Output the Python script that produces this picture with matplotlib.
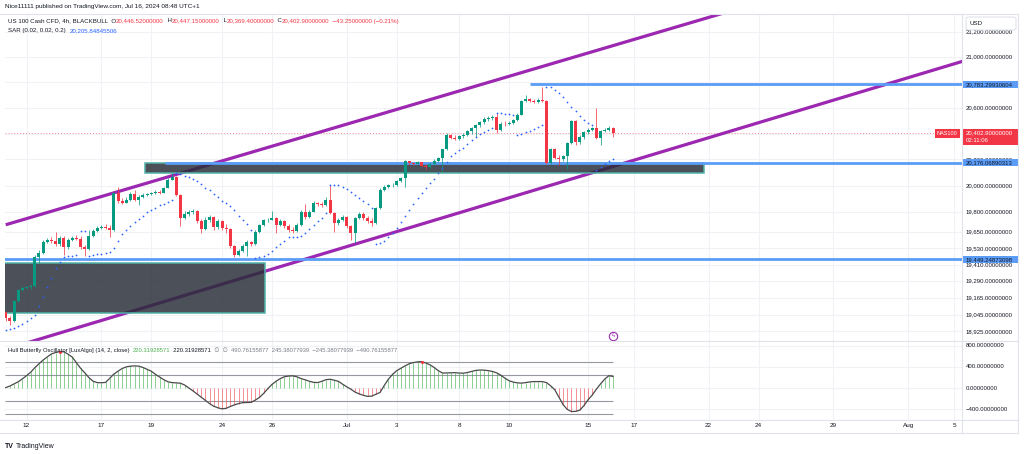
import numpy as np
import matplotlib.pyplot as plt
import matplotlib.transforms as mtransforms
from matplotlib.patches import Rectangle, FancyBboxPatch
from matplotlib.lines import Line2D
from matplotlib.ticker import NullLocator

plt.rcParams['font.family'] = ['Liberation Sans', 'DejaVu Sans']

# ---------------- data (US100 4h) ----------------
first_open = 19061
closes = [19024, 19002, 19141, 19221, 19239, 19246, 19250, 19469, 19498, 19579,
          19594, 19586, 19564, 19608, 19542, 19594, 19608, 19601, 19542, 19527,
          19623, 19660, 19683, 19690, 19683, 19668, 19945, 19884, 19873, 19892,
          19937, 19892, 19914, 19930, 19937, 19945, 19956, 19948, 19983, 20047,
          20066, 19930, 19757, 19787, 19802, 19809, 19734, 19675, 19742, 19764,
          19690, 19734, 19683, 19675, 19546, 19483, 19513, 19550, 19579, 19564,
          19653, 19701, 19738, 19745, 19757, 19705, 19734, 19694, 19668, 19660,
          19705, 19805, 19764, 19805, 19869, 19858, 19851, 19895, 19794, 19719,
          19742, 19764, 19694, 19645, 19753, 19790, 19757, 19731, 19719, 19828,
          19967, 19994, 20002, 20009, 20039, 20058, 20188, 20173, 20169, 20177,
          20150, 20139, 20165, 20192, 20208, 20277, 20392, 20365, 20357, 20377,
          20392, 20419, 20439, 20466, 20489, 20516, 20524, 20530, 20427, 20473,
          20470, 20481, 20504, 20547, 20653, 20672, 20653, 20649, 20664, 20653,
          20173, 20277, 20215, 20200, 20223, 20326, 20497, 20331, 20373, 20411,
          20431, 20439, 20365, 20419, 20431, 20446.52, 20402.90]
highs = [19075, 19039, 19155, 19235, 19250, 19257, 19265, 19483, 19520, 19594,
         19608, 19616, 19653, 19623, 19623, 19608, 19623, 19630, 19623, 19557,
         19668, 19675, 19697, 19705, 19708, 19705, 19952, 19990, 19907, 19914,
         19952, 19967, 19930, 19945, 19948, 19956, 19967, 19971, 19994, 20058,
         20093, 20074, 19937, 19809, 19817, 19824, 19817, 19749, 19764, 19779,
         19772, 19749, 19742, 19712, 19683, 19557, 19527, 19564, 19594, 19586,
         19668, 19712, 19749, 19757, 19809, 19764, 19749, 19742, 19712, 19690,
         19719, 19817, 19862, 19817, 19881, 19877, 19877, 19917, 20009, 19802,
         19757, 19779, 19772, 19705, 19764, 19802, 19802, 19772, 19757, 19839,
         19979, 20005, 20013, 20021, 20047, 20066, 20196, 20188, 20181, 20188,
         20181, 20165, 20181, 20204, 20219, 20284, 20404, 20400, 20388, 20392,
         20404, 20431, 20450, 20477, 20500, 20528, 20536, 20543, 20557, 20489,
         20497, 20497, 20516, 20559, 20664, 20700, 20680, 20668, 20676, 20765,
         20661, 20288, 20288, 20234, 20234, 20338, 20508, 20504, 20388, 20423,
         20442, 20450, 20596, 20427, 20442, 20458, 20447.15]
lows = [19002, 18973, 18995, 19134, 19214, 19228, 19235, 19243, 19425, 19491,
        19571, 19571, 19550, 19550, 19483, 19527, 19586, 19594, 19527, 19476,
        19520, 19616, 19653, 19675, 19675, 19616, 19660, 19869, 19862, 19869,
        19884, 19884, 19854, 19907, 19922, 19930, 19937, 19937, 19948, 19979,
        20043, 19922, 19697, 19749, 19772, 19787, 19719, 19645, 19668, 19727,
        19668, 19675, 19668, 19645, 19531, 19465, 19476, 19505, 19471, 19550,
        19557, 19645, 19697, 19727, 19742, 19645, 19697, 19683, 19653, 19645,
        19653, 19697, 19749, 19757, 19802, 19847, 19839, 19847, 19787, 19655,
        19701, 19734, 19683, 19594, 19569, 19749, 19742, 19719, 19694, 19712,
        19824, 19960, 19983, 19990, 19998, 20028, 19992, 20158, 20158, 20162,
        20143, 20131, 20135, 20158, 20181, 20107, 20273, 20354, 20350, 20350,
        20365, 20384, 20396, 20375, 20450, 20473, 20497, 20504, 20401, 20420,
        20458, 20466, 20473, 20497, 20543, 20645, 20645, 20637, 20641, 20645,
        20165, 20162, 20204, 20158, 20188, 20127, 20319, 20311, 20319, 20357,
        20396, 20419, 20354, 20311, 20411, 20423, 20369.4]
sar = [18932, 18939, 18950, 18964, 18979, 18997, 19018, 19044, 19108, 19174,
       19243, 19312, 19386, 19432, 19469, 19473, 19476, 19480, 19660, 19660,
       19476, 19483, 19487, 19491, 19498, 19505, 19535, 19586, 19634, 19668,
       19697, 19723, 19749, 19775, 19798, 19817, 19835, 19851, 19862, 19877,
       19895, 20094, 20089, 20077, 20066, 20051, 20032, 20013, 19986, 19964,
       19937, 19918, 19888, 19866, 19847, 19813, 19772, 19738, 19708, 19668,
       19461, 19465, 19476, 19491, 19513, 19539, 19564, 19586, 19612, 19618,
       19618, 19620, 19645, 19675, 19705, 19734, 19760, 19794, 20009, 20009,
       20009, 19994, 19975, 19956, 19933, 19907, 19881, 19858, 19832, 19564,
       19571, 19586, 19612, 19645, 19683, 19723, 19768, 19817, 19862, 19907,
       19948, 19983, 20021, 20054, 20093, 20135, 20181, 20223, 20246, 20269,
       20292, 20319, 20346, 20373, 20396, 20415, 20431, 20446, 20559, 20559,
       20555, 20551, 20547, 20392, 20400, 20408, 20419, 20435, 20450, 20466,
       20765, 20765, 20743, 20715, 20684, 20649, 20610, 20571, 20536, 20508,
       20485, 20466, 20123, 20146, 20165, 20188, 20205.85]
hull_osc = [10, 40, 80, 120, 175, 235, 300, 385, 460, 530,
            590, 645, 672, 688, 685, 640, 585, 480, 375, 290,
            200, 130, 105, 102, 108, 185, 265, 320, 370, 402,
            415, 420, 415, 390, 355, 320, 260, 210, 160, 120,
            105, 100, 94, 60, 5, -50, -110, -170, -230, -290,
            -340, -370, -389, -380, -345, -314, -290, -272, -270, -268,
            -225, -175, -100, -10, 70, 130, 180, 215, 228, 232,
            215, 180, 158, 130, 110, 105, 130, 160, 168, 150,
            128, 75, 25, -20, -75, -108, -135, -155, -150, -115,
            -80, 50, 170, 260, 330, 376, 420, 460, 482, 495,
            500, 475, 440, 390, 330, 285, 288, 293, 292, 285,
            282, 295, 315, 335, 342, 340, 330, 315, 290, 245,
            190, 140, 115, 100, 95, 105, 118, 124, 124, 124,
            105, 45, -30, -170, -310, -400, -440, -438, -415, -330,
            -220, -130, -20, 80, 170, 235, 220.32]
osc_peaks = [13, 100]

tick_bars = [5, 23, 35, 52, 64, 82, 94, 109, 121, 140, 151, 169, 181, 199, 217, 228]
tick_labels = ['12', '17', '19', '24', '26', 'Jul', '3', '8', '10', '15',
               '17', '22', '24', '29', 'Aug', '5']
price_ticks = [21200, 21000, 20800, 20600, 20400, 20200, 20000, 19800,
               19650, 19530, 19410, 19290, 19165, 19045, 18925]
hidden_ticks = [20800, 20400]          # covered by the level tags
osc_ticks = [800, 400, 0, -400]
osc_levels = [490.76155877, 245.38077939, -245.38077939, -490.76155877]

upper_channel = ([0, 175], [19706, 21378])
lower_channel = ([0, 230], [18797, 20966])
blue_levels = [(20783.29930604, 126), (20176.06890313, 38.3), (19449.24873098, -1)]
zones = [(33.5, 167.9, 20096, 20176.07), (-1, 62.3, 19057, 19422)]
last_price = 20402.90
sar_last = 20205.84845506

# ---------------- figure / panes ----------------
W, H = 1024, 454
fig = plt.figure(figsize=(W / 100, H / 100), dpi=100)
fig.patch.set_facecolor('white')


def rect(x0, y0, x1, y1):
    return [x0 / W, 1 - y1 / H, (x1 - x0) / W, (y1 - y0) / H]


ax = fig.add_axes(rect(5, 14, 962, 341))
ax.set_yscale('log')
axo = fig.add_axes(rect(5, 341, 962, 420), sharex=ax)
axp = fig.add_axes(rect(962, 14, 1018, 341), sharey=ax)
axpo = fig.add_axes(rect(962, 341, 1018, 420), sharey=axo)

ymin, ymax = 18856, 21346
ax.set_ylim(ymin, ymax)
ax.set_xlim(-0.17, 229.9)
axo.set_ylim(-600, 889)
axp.set_xlim(0, 1)
axpo.set_xlim(0, 1)

for a in (ax, axo, axp, axpo):
    for s in a.spines.values():
        s.set_visible(False)
    a.yaxis.set_major_locator(NullLocator())
    a.yaxis.set_minor_locator(NullLocator())
    a.set_facecolor('none')
axp.set_xticks([])
axpo.set_xticks([])
ax.tick_params(axis='x', bottom=False, labelbottom=False)

TXT = '#131722'
GRID = '#f0f2f6'
UP, DN = '#089981', '#f23645'
BLUE = '#5b9cf6'
PURPLE = '#9c27b0'

n = len(closes)
x = np.arange(n)
opens = [first_open] + closes[:-1]

# grid
for p in price_ticks:
    ax.axhline(p, color=GRID, lw=0.8, zorder=0)
for b in tick_bars:
    ax.axvline(b, color=GRID, lw=0.8, zorder=0)
    axo.axvline(b, color=GRID, lw=0.8, zorder=0)
for v in osc_ticks:
    axo.axhline(v, color=GRID, lw=0.8, zorder=0)

# channel
ax.plot(*upper_channel, color=PURPLE, lw=2.3, zorder=1.5, solid_capstyle='butt')
ax.plot(*lower_channel, color=PURPLE, lw=2.3, zorder=1.5, solid_capstyle='butt')

# zones
for x0, x1, p0, p1 in zones:
    ax.add_patch(Rectangle((x0, p0), x1 - x0, p1 - p0, facecolor='#2a2e39',
                           alpha=0.84, edgecolor='none', zorder=2))
    ax.add_patch(Rectangle((x0, p0), x1 - x0, p1 - p0, facecolor='none',
                           edgecolor='#4fb3a9', lw=1.1, zorder=2.1))

# horizontal levels
for p, start in blue_levels:
    ax.hlines(p, start, 229.9, color=BLUE, lw=2.0, zorder=2.5)
ax.axhline(last_price, color=DN, lw=0.7, ls=(0, (1, 2)), alpha=0.6, zorder=1)

# candles
cols = [UP if c >= o else DN for o, c in zip(opens, closes)]
ax.vlines(x, lows, highs, colors=cols, lw=0.7, alpha=0.75, zorder=3)
bottoms = [min(o, c) for o, c in zip(opens, closes)]
heights = [max(abs(c - o), 5) for o, c in zip(opens, closes)]
ax.bar(x, heights, bottom=bottoms, width=0.72, color=cols, lw=0, zorder=3.2)

# parabolic SAR
ax.scatter(x, sar, s=1.6, color='#2962ff', lw=0, zorder=4)

# data flag icon
ax.plot([n - 1], [18892], 'o', ms=6, mfc='white', mec=PURPLE, mew=0.8, zorder=5,
        clip_on=False)
ax.text(n - 1, 18892, 'ϟ', color=PURPLE, fontsize=4.5, ha='center', va='center',
        zorder=6, clip_on=False)

# oscillator
hcols = ['#3fb049' if v >= 0 else '#f2444f' for v in hull_osc]
axo.vlines(x, 0, hull_osc, colors=hcols, lw=0.7, alpha=0.6, zorder=2)
axo.hlines(osc_levels, -0.17, n - 1, color='#9598a1', lw=0.8, zorder=1)
axo.plot(x, hull_osc, color='#4a4a4a', lw=0.9, zorder=3)
axo.scatter([x[i] for i in osc_peaks], [hull_osc[i] for i in osc_peaks],
            s=5, color=DN, lw=0, zorder=4)
axo.set_xticks(tick_bars)
axo.set_xticklabels(tick_labels)
axo.tick_params(axis='x', length=0, pad=2.2, labelsize=4.6, labelcolor=TXT)

# price scale
k = (341 - 14) / np.log(ymax / ymin)   # pixels per log unit
for p in price_ticks:
    if p in hidden_ticks:
        continue
    axp.text(0.07, p, f"{p:,.8f}", va='center', ha='left', fontsize=4.3, color=TXT)
for v in osc_ticks:
    axpo.text(0.07, v, f"{v:,.8f}".replace('-', '\u2212'), va='center', ha='left',
              fontsize=4.3, color=TXT)


def tag(p, txt, fc, tc, up_px=3.8, down_px=3.8):
    lo, hi = p * np.exp(-down_px / k), p * np.exp(up_px / k)
    axp.add_patch(Rectangle((0, lo), 1, hi - lo, facecolor=fc, edgecolor='none', zorder=5))
    axp.text(0.07, p, txt, va='center', ha='left', fontsize=4.3, color=tc, zorder=6)


for p, _ in blue_levels:
    tag(p, f"{p:,.8f}", BLUE, TXT)
tag(last_price, f"{last_price:,.8f}", '#f23645', 'white', up_px=3.8, down_px=11.5)
axp.text(0.07, last_price * np.exp(-7.3 / k), '02:11:06', va='center', ha='left',
         fontsize=4.3, color='white', zorder=6)

# NAS100 tag on the chart
bt = mtransforms.blended_transform_factory(ax.transAxes, ax.transData)
lo, hi = last_price * np.exp(-4.5 / k), last_price * np.exp(4.5 / k)
ax.add_patch(Rectangle((0.9718, lo), 0.026, hi - lo, transform=bt, facecolor='#f23645',
                       edgecolor='none', zorder=6))
ax.text(0.9847, last_price, 'NAS100', transform=bt, ha='center', va='center',
        fontsize=4.0, color='white', zorder=7)

# USD box
fig.add_artist(FancyBboxPatch((966 / W, 1 - 30 / H), 50 / W, 13 / H,
                              boxstyle='round,pad=0,rounding_size=0.004',
                              transform=fig.transFigure, facecolor='white',
                              edgecolor='#e0e3eb', lw=0.8))
fig.text(969 / W, 1 - 23.5 / H, 'USD', fontsize=4.5, color=TXT, va='center')

# frame lines
FR = '#e0e3eb'
for (x0, y0, x1, y1) in [(0, 14, 1018, 14), (0, 341, 1018, 341), (0, 420, 1018, 420),
                         (0, 433, 1018, 433), (962, 14, 962, 433), (1018, 14, 1018, 433)]:
    fig.add_artist(Line2D([x0 / W, x1 / W], [1 - y0 / H, 1 - y1 / H],
                          transform=fig.transFigure, color=FR, lw=0.8))

# header texts
renderer = fig.canvas.get_renderer()


def text_run(x_px, y_px, pieces, size):
    xx = x_px
    for s, c in pieces:
        t = fig.text(xx / W, 1 - y_px / H, s, fontsize=size, color=c, va='center', ha='left')
        xx += t.get_window_extent(renderer=renderer).width


fig.text(5 / W, 1 - 6.5 / H, 'Nice11111 published on TradingView.com, Jul 16, 2024 08:48 UTC+1',
         fontsize=4.6, color=TXT, va='center')
text_run(8, 21, [('US 100 Cash CFD, 4h, BLACKBULL  O', TXT), ('20,446.52000000', DN),
                 ('  H', TXT), ('20,447.15000000', DN), ('  L', TXT), ('20,369.40000000', DN),
                 ('  C', TXT), ('20,402.90000000', DN),
                 ('  \u221243.25000000 (\u22120.21%)', DN)], 4.4)
text_run(8, 30.5, [('SAR (0.02, 0.02, 0.2)  ', TXT), (f"{sar_last:,.8f}", '#2962ff')], 4.4)
text_run(8, 350.5, [('Hull Butterfly Oscillator [LuxAlgo] (14, 2, close)  ', TXT),
                    ('220.31928571', '#4caf50'), ('  220.31928571', TXT),
                    ('  \u2205  \u2205  ', '#787b86'),
                    ('490.76155877  245.38077939  \u2212245.38077939  \u2212490.76155877',
                     '#787b86')], 4.2)

# footer logo
fig.text(5 / W, 1 - 446 / H, 'TV', fontsize=5, color=TXT, weight='bold', va='center')
fig.text(16 / W, 1 - 446 / H, 'TradingView', fontsize=5, color=TXT, va='center')

fig.savefig('out.png', dpi=100, facecolor='white')
